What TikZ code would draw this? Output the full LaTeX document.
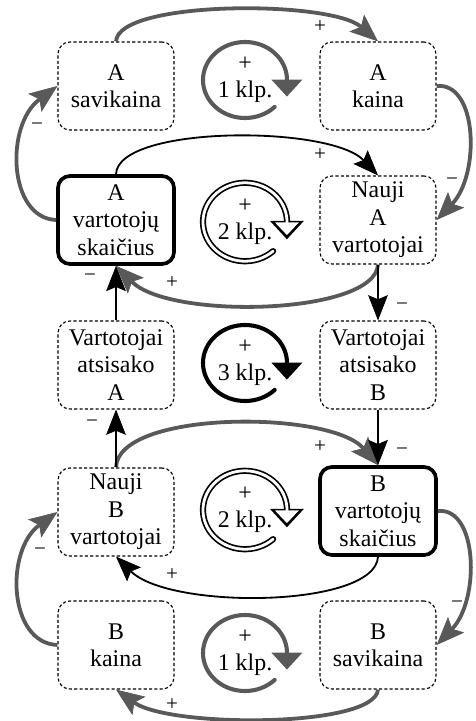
\documentclass[tikz,border=0pt]{standalone}
\usepackage{fontspec}
\setmainfont{Liberation Serif}
\usetikzlibrary{arrows.meta}
\definecolor{arrgray}{gray}{0.35}

\begin{document}
\begin{tikzpicture}[x=0.025cm, y=-0.025cm, line join=round,
  box/.style={draw, line width=0.8pt, dash pattern=on 2.2pt off 1.6pt, rounded corners=0.3cm, minimum width=2.9cm, minimum height=2.2cm, align=center, inner sep=0pt, font=\fontsize{17}{19.5}\selectfont},
  mainbox/.style={box, solid, line width=2.6pt},
  grayarr/.style={draw=arrgray, line width=2.7pt, -{Stealth[length=20pt,width=16pt,inset=4pt,line width=0.5pt]}},
  blackarr/.style={draw=black, line width=1.3pt, -{Stealth[length=18pt,width=14pt,inset=3pt,line width=0.5pt]}},
  looptext/.style={align=center, inner sep=0pt, font=\fontsize{17}{19.5}\selectfont},
  loopgray/.style={draw=arrgray, line width=2.9pt, line cap=round, -{Triangle[length=12pt,width=22pt,line width=0pt]}},
  loopblack/.style={draw=black, line width=2.9pt, line cap=round, -{Triangle[length=12pt,width=22pt,line width=0pt]}},
  loopdbl/.style={draw=black, line width=4.4pt, line cap=round, -{Triangle[length=13pt,width=24pt,line width=0pt]}},
  loopdblin/.style={draw=white, line width=2pt, line cap=round, shorten >=3pt, -{Triangle[length=9pt,width=17pt,line width=0pt]}},
  sign/.style={inner sep=0pt, font=\fontsize{15}{15}\selectfont}]

\useasboundingbox (0,0) rectangle (475,721);

\node[box] (asav) at (116,86) {A\\savikaina};
\node[box] (akai) at (378,86) {A\\kaina};
\node[mainbox] (avart) at (116,220) {A\\vartotojų\\skaičius};
\node[box] (nauA) at (378,220) {Nauji\\A\\vartotojai};
\node[box] (atsA) at (116,365) {Vartotojai\\atsisako\\A};
\node[box] (atsB) at (378,365) {Vartotojai\\atsisako\\B};
\node[box] (nauB) at (116,512) {Nauji\\B\\vartotojai};
\node[mainbox] (bvart) at (378,511) {B\\vartotojų\\skaičius};
\node[box] (bkai) at (116,645) {B\\kaina};
\node[box] (bsav) at (378,645) {B\\savikaina};

\node[looptext] (klpA1) at (245,80) {+\\1 klp.};
\node[looptext] (klpA2) at (245,222) {+\\2 klp.};
\node[looptext] (klp3) at (245,363) {+\\3 klp.};
\node[looptext] (klpB2) at (245,510) {+\\2 klp.};
\node[looptext] (klpB1) at (245,653) {+\\1 klp.};

\draw[loopgray] ([shift={(-45:1.05cm and 0.95cm)}]klpA1.center) arc[start angle=-45, end angle=-356, x radius=1.05cm, y radius=0.95cm] -- ++(0,-0.48cm);
\draw[loopdbl] ([shift={(-48:1.05cm and 0.98cm)}]klpA2.center) arc[start angle=-48, end angle=-356, x radius=1.05cm, y radius=0.98cm] -- ++(0,-0.5cm);
\draw[loopdblin] ([shift={(-48:1.05cm and 0.98cm)}]klpA2.center) arc[start angle=-48, end angle=-356, x radius=1.05cm, y radius=0.98cm] -- ++(0,-0.5cm);
\draw[loopblack] ([shift={(-45:1.05cm and 0.95cm)}]klp3.center) arc[start angle=-45, end angle=-356, x radius=1.05cm, y radius=0.95cm] -- ++(0,-0.48cm);
\draw[loopdbl] ([shift={(-48:1.05cm and 0.98cm)}]klpB2.center) arc[start angle=-48, end angle=-356, x radius=1.05cm, y radius=0.98cm] -- ++(0,-0.5cm);
\draw[loopdblin] ([shift={(-48:1.05cm and 0.98cm)}]klpB2.center) arc[start angle=-48, end angle=-356, x radius=1.05cm, y radius=0.98cm] -- ++(0,-0.5cm);
\draw[loopgray] ([shift={(-45:1.05cm and 0.95cm)}]klpB1.center) arc[start angle=-45, end angle=-356, x radius=1.05cm, y radius=0.95cm] -- ++(0,-0.48cm);

\draw[grayarr] (asav.north) .. controls (118,0) and (330,0) .. (akai.north);
\draw[grayarr] (akai.east) .. controls (478,82) and (480,175) .. (nauA.east);
\draw[grayarr] (avart.west) .. controls (8,218) and (5,125) .. (asav.west);
\draw[blackarr] (avart.north) .. controls (118,125) and (330,125) .. (nauA.north);
\draw[grayarr] (nauA.south) .. controls (375,315) and (170,320) .. (avart.south);
\draw[blackarr] (nauA.south) -- (atsB.north);
\draw[blackarr] (atsA.north) -- (avart.south);
\draw[grayarr] (nauB.north) .. controls (118,410) and (330,410) .. (bvart.north);
\draw[blackarr] (nauB.north) -- (atsA.south);
\draw[blackarr] (atsB.south) -- (bvart.north);
\draw[blackarr] (bvart.south) .. controls (375,608) and (170,610) .. (nauB.south);
\draw[grayarr] (bvart.east) .. controls (478,507) and (480,600) .. (bsav.east);
\draw[grayarr] (bsav.south) .. controls (375,728) and (170,728) .. (bkai.south);
\draw[grayarr] (bkai.west) .. controls (8,643) and (5,550) .. (nauB.west);

\node[sign] (pA1) at (320,27) {+};
\node[sign] (mA1) at (452,182) {−};
\node[sign] (mA2) at (37,127) {−};
\node[sign] (pA2) at (320,155) {+};
\node[sign] (pA3) at (172,283) {+};
\node[sign] (mA3) at (402,307) {−};
\node[sign] (mA4) at (90,278) {−};
\node[sign] (pB1) at (320,447) {+};
\node[sign] (mB1) at (92,424) {−};
\node[sign] (mB2) at (402,452) {−};
\node[sign] (pB2) at (172,575) {+};
\node[sign] (mB3) at (457,605) {−};
\node[sign] (mB4) at (40,552) {−};
\node[sign] (pB3) at (172,705) {+};

\end{tikzpicture}
\end{document}
